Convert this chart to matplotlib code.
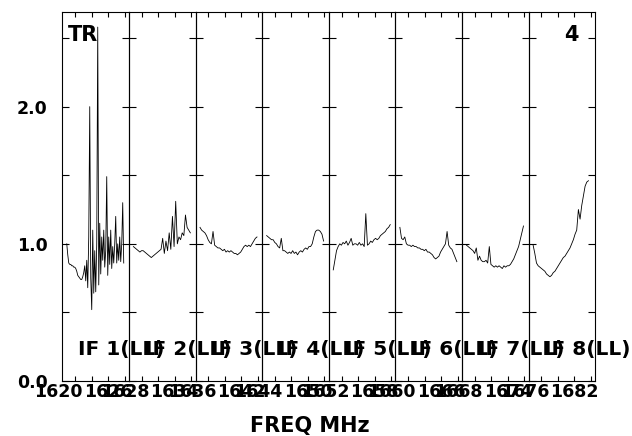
import numpy as np
import matplotlib
matplotlib.use("Agg")
import matplotlib.pyplot as plt
import matplotlib.transforms as mtransforms
from matplotlib.ticker import FuncFormatter

# ---------------- data ----------------
if_names = ["IF 1(LL)", "IF 2(LL)", "IF 3(LL)", "IF 4(LL)",
            "IF 5(LL)", "IF 6(LL)", "IF 7(LL)", "IF 8(LL)"]
if_start = [1621.0, 1629.0, 1637.0, 1645.0, 1653.0, 1661.0, 1669.0, 1677.0]   # first channel MHz
if_stop = [1627.9, 1635.9, 1643.9, 1651.9, 1659.9, 1667.9, 1675.9, 1683.7]    # last channel MHz
x_label_freqs = [[1620, 1626], [1628, 1634], [1636, 1642], [1644, 1650],
                 [1652, 1658], [1660, 1666], [1668, 1674], [1676, 1682]]

amp_if1 = [1.00, 0.92, 0.86, 0.85, 0.85, 0.84, 0.84, 0.83, 0.83, 0.82, 0.80, 0.77,
           0.76, 0.75, 0.74, 0.74, 0.76, 0.79, 0.84, 0.73, 0.88, 0.68, 1.05, 2.00,
           0.75, 0.52, 1.10, 0.64, 0.95, 0.65, 1.00, 2.58, 0.70, 1.15, 0.78, 1.05,
           0.88, 1.10, 0.83, 0.95, 1.49, 0.77, 1.05, 0.85, 1.10, 0.82, 0.98, 0.86,
           1.00, 1.20, 0.86, 1.00, 0.88, 1.05, 0.87, 1.00, 1.30, 0.86]
amp_if2 = [0.98, 0.97, 0.96, 0.95, 0.94, 0.95, 0.95, 0.94, 0.93, 0.92, 0.91, 0.90,
           0.91, 0.92, 0.93, 0.94, 0.95, 0.96, 1.04, 0.93, 1.02, 0.95, 1.08, 0.96,
           1.20, 0.98, 1.31, 1.00, 1.05, 1.03, 1.08, 1.06, 1.21, 1.12, 1.10, 1.08]
amp_if3 = [1.12, 1.10, 1.09, 1.08, 1.06, 1.03, 1.01, 1.00, 1.09, 0.99, 0.98, 0.97,
           0.97, 0.96, 0.95, 0.96, 0.94, 0.95, 0.94, 0.95, 0.94, 0.93, 0.93, 0.92,
           0.93, 0.94, 0.96, 0.98, 0.99, 0.98, 0.99, 0.98, 1.00, 1.02, 1.04, 1.05]
amp_if4 = [1.06, 1.05, 1.04, 1.03, 1.03, 1.01, 1.00, 0.98, 0.97, 1.04, 0.95, 0.95,
           0.94, 0.93, 0.94, 0.93, 0.95, 0.93, 0.94, 0.92, 0.94, 0.95, 0.94, 0.96,
           0.97, 0.96, 0.98, 0.98, 1.00, 1.05, 1.09, 1.10, 1.10, 1.09, 1.07, 1.02]
amp_if5 = [0.81, 0.88, 0.95, 0.98, 1.00, 0.99, 1.01, 1.00, 1.02, 0.99, 1.01, 1.04,
           0.99, 1.00, 1.00, 0.99, 1.01, 0.99, 1.00, 0.98, 1.22, 0.99, 1.00, 1.02,
           1.01, 1.03, 1.04, 1.03, 1.04, 1.06, 1.07, 1.08, 1.09, 1.11, 1.12, 1.14]
amp_if6 = [1.12, 1.04, 1.03, 1.05, 1.00, 0.99, 0.99, 0.98, 0.99, 0.98, 0.98, 0.97,
           0.97, 0.96, 0.96, 0.95, 0.96, 0.94, 0.94, 0.93, 0.92, 0.90, 0.89, 0.90,
           0.91, 0.94, 0.96, 0.98, 1.00, 1.09, 0.99, 0.97, 0.96, 0.93, 0.90, 0.87]
amp_if7 = [0.99, 0.98, 0.97, 0.96, 0.95, 0.93, 0.97, 0.88, 0.91, 0.88, 0.87, 0.87,
           0.88, 0.86, 0.98, 0.85, 0.84, 0.83, 0.84, 0.83, 0.84, 0.83, 0.82, 0.84,
           0.83, 0.84, 0.84, 0.85, 0.87, 0.89, 0.92, 0.95, 0.98, 1.03, 1.08, 1.13]
amp_if8 = [0.99, 0.93, 0.86, 0.84, 0.83, 0.82, 0.81, 0.80, 0.78, 0.77, 0.76, 0.77,
           0.79, 0.80, 0.82, 0.84, 0.86, 0.88, 0.90, 0.91, 0.93, 0.95, 0.97, 1.00,
           1.03, 1.07, 1.10, 1.25, 1.18, 1.28, 1.35, 1.42, 1.45, 1.46]
amps = [amp_if1, amp_if2, amp_if3, amp_if4, amp_if5, amp_if6, amp_if7, amp_if8]

y_ticks = [0.0, 0.5, 1.0, 1.5, 2.0, 2.5]
y_max = 2.69

# ---------------- figure ----------------
plt.rcParams['font.family'] = ['DejaVu Sans']
plt.rcParams['font.weight'] = 'bold'

W, H = 632, 436
fig = plt.figure(figsize=(W / 100, H / 100), dpi=100)
gs = fig.add_gridspec(1, 8, left=62.3 / W, right=595.3 / W,
                      bottom=(H - 381) / H, top=(H - 12) / H, wspace=0)

axes = []
for i in range(8):
    ax = fig.add_subplot(gs[0, i])
    ax.patch.set_visible(False)
    axes.append(ax)
    vals = amps[i]
    freqs = np.linspace(if_start[i], if_stop[i], len(vals))
    ax.plot(freqs, vals, color='black', lw=0.6)
    f_lo = if_start[i] - 0.54
    ax.set_xlim(f_lo, f_lo + 8.07)
    ax.set_ylim(0, y_max)
    ax.set_yticks(y_ticks)
    ax.yaxis.set_major_formatter(FuncFormatter(
        lambda v, p: f"{v:.1f}" if abs(v - round(v)) < 1e-6 else ""))
    ax.tick_params(axis='y', direction='in', left=True, right=True,
                   length=5, width=0.8, labelleft=(i == 0), pad=10.5,
                   labelsize=12.5)
    xt = [f for f in range(int(np.ceil(f_lo)), int(f_lo + 8.07) + 1) if f % 2 == 0]
    ax.set_xticks(xt)
    ax.tick_params(axis='x', direction='in', top=True, bottom=True,
                   length=3.6, width=0.8, labelbottom=False)
    for sp in ax.spines.values():
        sp.set_linewidth(0.8)
        sp.set_color('black')
    for f in x_label_freqs[i]:
        ax.text(f, -0.0425, str(f), transform=ax.get_xaxis_transform(),
                ha='center', va='baseline', fontsize=12.5, fontweight='bold',
                clip_on=False, zorder=5)
    tr = mtransforms.blended_transform_factory(ax.transAxes, ax.transData)
    ax.text(0.236, 0.226, if_names[i], transform=tr,
            ha='left', va='center', fontsize=14.5, fontweight='bold',
            clip_on=False, zorder=5)
    if i == 0:
        ax.text(0.085, 0.965, "TR", transform=ax.transAxes, ha='left', va='top',
                fontsize=15, fontweight='bold')
    if i == 7:
        ax.text(0.75, 0.965, "4", transform=ax.transAxes, ha='right', va='top',
                fontsize=15, fontweight='bold')

fig.text(310.3 / W, 1 - 431.7 / H, "FREQ MHz", ha='center', va='baseline',
         fontsize=15, fontweight='bold')

fig.savefig("out.png", dpi=100)
